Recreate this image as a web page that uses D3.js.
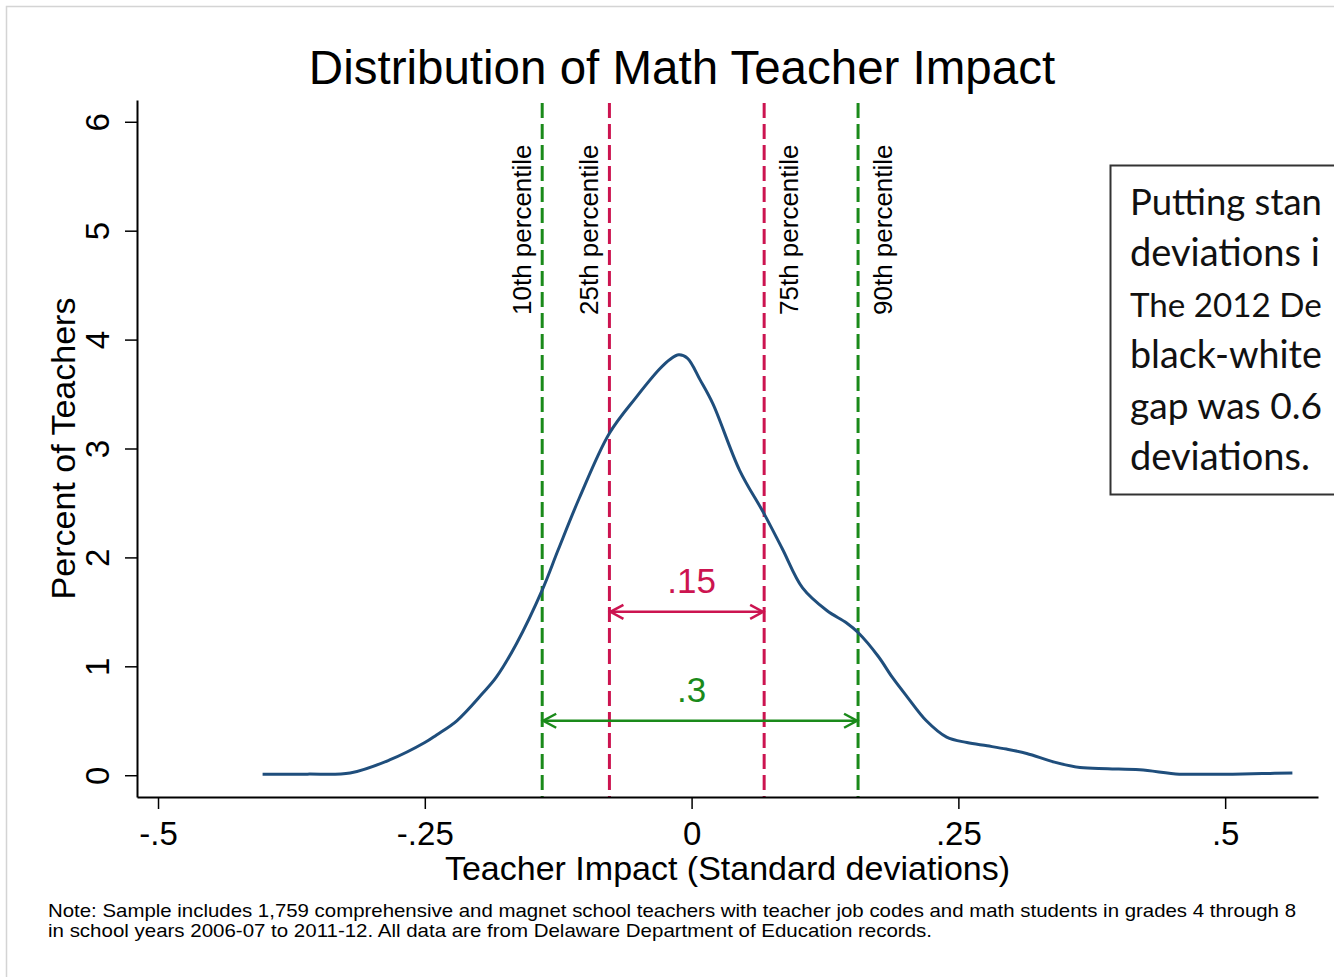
<!DOCTYPE html>
<html>
<head>
<meta charset="utf-8">
<script src="https://cdnjs.cloudflare.com/ajax/libs/d3/7.8.5/d3.min.js"></script>
<style>
  body { margin: 0; background: #fff; }
  svg { display: block; font-family: "Liberation Sans", Arial, sans-serif; }
</style>
</head>
<body>
<div id="chart"></div>
<script>
// Kernel density of teacher impact
var impact = [-0.402, -0.36, -0.32, -0.283, -0.25, -0.239, -0.22, -0.196, -0.183, -0.164,
  -0.14, -0.125, -0.105, -0.077, -0.052, -0.03, -0.02, -0.012, -0.004, 0.008, 0.02,
  0.045, 0.068, 0.085, 0.104, 0.127, 0.145, 0.156, 0.175, 0.188, 0.202,
  0.22, 0.239, 0.258, 0.277, 0.295, 0.314, 0.34, 0.364, 0.39, 0.42,
  0.457, 0.48, 0.507, 0.535, 0.563];
var percent = [0.01, 0.01, 0.02, 0.14, 0.30, 0.37, 0.50, 0.75, 0.90, 1.21,
  1.70, 2.07, 2.55, 3.14, 3.47, 3.73, 3.82, 3.86, 3.83, 3.63, 3.41,
  2.80, 2.40, 2.08, 1.72, 1.51, 1.40, 1.31, 1.09, 0.90, 0.72,
  0.50, 0.35, 0.30, 0.27, 0.24, 0.20, 0.12, 0.07, 0.06, 0.05,
  0.01, 0.01, 0.01, 0.015, 0.02];

// Percentile lines
var pctNames = ["10th percentile", "25th percentile", "75th percentile", "90th percentile"];
var pctValues = [-0.14, -0.077, 0.068, 0.156];
var pctColors = ["#1a8a1a", "#cc1450", "#cc1450", "#1a8a1a"];

// Spread arrows
var spreadLabels = [".15", ".3"];
var spreadFrom = [-0.077, -0.14];
var spreadTo = [0.068, 0.156];
var spreadY = [1.5, 0.5];
var spreadColors = ["#cc1450", "#1a8a1a"];

var xTicks = [-0.5, -0.25, 0, 0.25, 0.5];
var xTickLabels = ["-.5", "-.25", "0", ".25", ".5"];
var yTicks = [0, 1, 2, 3, 4, 5, 6];

// callout, as much of it as shows before the right edge
var boxLines = ["Putting stan", "deviations i", "The 2012 De",
  "black-white", "gap was 0.6", "deviations."];

var noteLines = [
  "Note: Sample includes 1,759 comprehensive and magnet school teachers with teacher job codes and math students in grades 4 through 8",
  "in school years 2006-07 to 2011-12. All data are from Delaware Department of Education records."
];

var svgWidth = 1334;
var svgHeight = 977;

var plot = { left: 137, right: 1318, top: 100, bottom: 797 };

var svg = d3.select("#chart")
    .append("svg")
    .attr("width", svgWidth)
    .attr("height", svgHeight);

// light outer frame
svg.append("rect")
    .attr("x", 6.5).attr("y", 6.5)
    .attr("width", 1400).attr("height", 1100)
    .attr("fill", "#fff")
    .attr("stroke", "#d4d4d4")
    .attr("stroke-width", 1.5);

var x = d3.scaleLinear()
    .domain([-0.5197, 0.587])
    .range([plot.left, plot.right]);

var y = d3.scaleLinear()
    .domain([-0.2, 6.2])
    .range([plot.bottom, plot.top]);

// title
svg.append("text")
    .attr("x", 682)
    .attr("y", 84)
    .attr("text-anchor", "middle")
    .attr("font-size", 47.5)
    .attr("fill", "#000")
    .text("Distribution of Math Teacher Impact");

// percentile lines
pctValues.forEach(function(v, i) {
  svg.append("line")
      .attr("x1", x(v)).attr("x2", x(v))
      .attr("y1", plot.top + 3).attr("y2", plot.bottom)
      .attr("stroke", pctColors[i])
      .attr("stroke-width", 3)
      .attr("stroke-dasharray", "15,6");

  var tx = i < 2 ? x(v) - 11 : x(v) + 34;
  svg.append("text")
      .attr("transform", `translate(${tx},315) rotate(-90)`)
      .attr("font-size", 26)
      .attr("fill", "#000")
      .text(pctNames[i]);
});

// spread arrows
spreadLabels.forEach(function(lab, i) {
  var x1 = x(spreadFrom[i]), x2 = x(spreadTo[i]), yy = y(spreadY[i]);
  var g = svg.append("g")
      .attr("stroke", spreadColors[i])
      .attr("stroke-width", 2.5)
      .attr("fill", "none");
  g.append("line").attr("x1", x1).attr("x2", x2).attr("y1", yy).attr("y2", yy);
  g.append("path").attr("d", `M${x1 + 14},${yy - 7}L${x1 + 1},${yy}L${x1 + 14},${yy + 7}`);
  g.append("path").attr("d", `M${x2 - 14},${yy - 7}L${x2 - 1},${yy}L${x2 - 14},${yy + 7}`);

  svg.append("text")
      .attr("x", x(0))
      .attr("y", yy - 19)
      .attr("text-anchor", "middle")
      .attr("font-size", 35)
      .attr("fill", spreadColors[i])
      .text(lab);
});

// density curve
var line = d3.line()
    .x(function(d, i) { return x(impact[i]); })
    .y(function(d) { return y(d); })
    .curve(d3.curveCatmullRom.alpha(0.5));

svg.append("path")
    .datum(percent)
    .attr("d", line)
    .attr("fill", "none")
    .attr("stroke", "#1f4e7c")
    .attr("stroke-width", 3)
    .attr("stroke-linejoin", "round");

// axes
var xAxis = d3.axisBottom(x)
    .tickValues(xTicks)
    .tickFormat(function(d, i) { return xTickLabels[i]; })
    .tickSize(12)
    .tickSizeOuter(0);

var gx = svg.append("g")
    .attr("transform", `translate(0,${plot.bottom})`)
    .call(xAxis);
gx.select(".domain").attr("stroke-width", 2);
gx.selectAll(".tick line").attr("stroke-width", 1.5);
gx.selectAll(".tick text")
    .attr("font-size", 33)
    .attr("font-family", "Liberation Sans, Arial, sans-serif")
    .attr("y", 25);

var yAxis = d3.axisLeft(y)
    .tickValues(yTicks)
    .tickFormat(d3.format("d"))
    .tickSize(12)
    .tickSizeOuter(0);

var gy = svg.append("g")
    .attr("transform", `translate(${plot.left},0)`)
    .call(yAxis);
gy.select(".domain").attr("stroke-width", 2);
gy.selectAll(".tick line").attr("stroke-width", 1.5);
gy.selectAll(".tick text")
    .attr("font-size", 33)
    .attr("font-family", "Liberation Sans, Arial, sans-serif")
    .attr("x", null).attr("dy", null)
    .attr("text-anchor", "middle")
    .attr("transform", "translate(-28,0) rotate(-90)");

// axis titles
svg.append("text")
    .attr("x", (plot.left + plot.right) / 2)
    .attr("y", 880)
    .attr("text-anchor", "middle")
    .attr("font-size", 34)
    .text("Teacher Impact (Standard deviations)");

svg.append("text")
    .attr("transform", `translate(75,${(plot.top + plot.bottom) / 2}) rotate(-90)`)
    .attr("text-anchor", "middle")
    .attr("font-size", 34)
    .text("Percent of Teachers");

// note
svg.append("text")
    .attr("x", 48).attr("y", 917)
    .attr("font-size", 19)
    .attr("textLength", 1248)
    .attr("lengthAdjust", "spacingAndGlyphs")
    .text(noteLines[0]);
svg.append("text")
    .attr("x", 48).attr("y", 937)
    .attr("font-size", 19)
    .attr("textLength", 884)
    .attr("lengthAdjust", "spacingAndGlyphs")
    .text(noteLines[1]);

// callout box, running past the right edge
svg.append("rect")
    .attr("x", 1110.5).attr("y", 165.5)
    .attr("width", 400).attr("height", 329)
    .attr("fill", "#fff")
    .attr("stroke", "#333")
    .attr("stroke-width", 2);

boxLines.forEach(function(t, i) {
  var txt = svg.append("text")
      .attr("x", 1130)
      .attr("y", 215 + i * 51)
      .attr("font-family", "Lato, 'Open Sans', sans-serif")
      .attr("font-size", 38)
      .attr("fill", "#111")
      .text(t);
  var w = txt.node().getComputedTextLength();
  if (1130 + w > 1322) {
    txt.attr("font-size", 38 * (1322 - 1130) / w);
  }
});
</script>
</body>
</html>
